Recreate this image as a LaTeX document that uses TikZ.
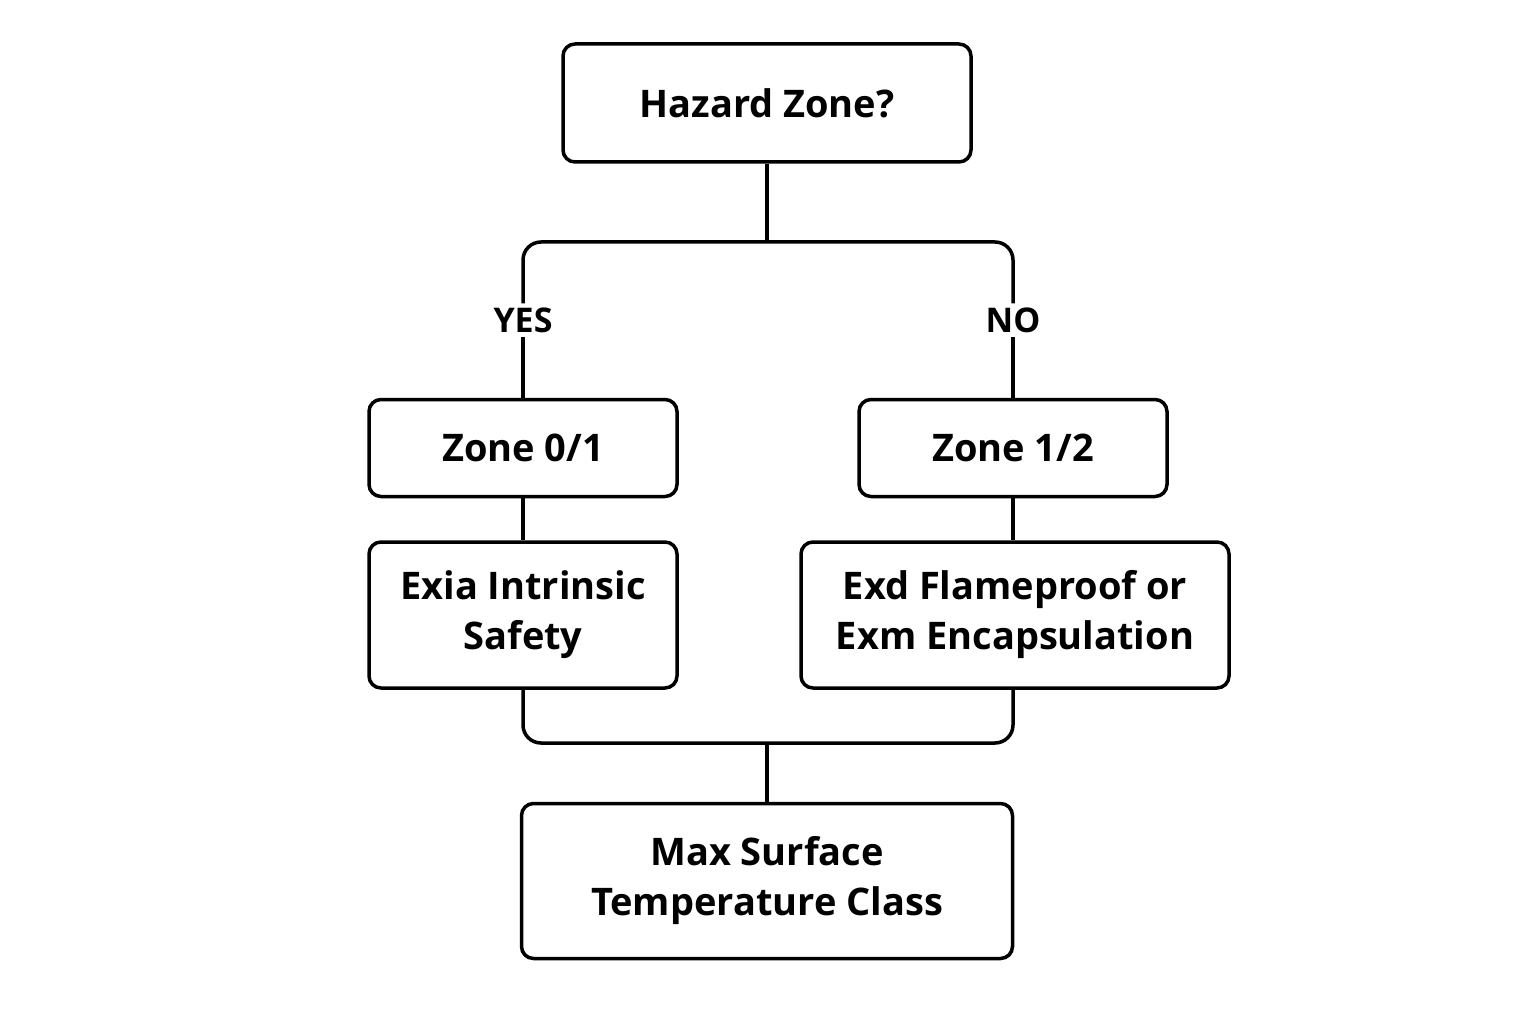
\documentclass[tikz,border=0pt]{standalone}
\usepackage{fontspec}
\setmainfont{Open Sans}
\begin{document}
\begin{tikzpicture}[x=1pt,y=-1pt,
  box/.style={draw,line width=3.5pt,rounded corners=12pt,align=center,font=\fontsize{38}{50}\selectfont\bfseries,inner sep=0pt},
  lab/.style={font=\fontsize{34}{40}\selectfont\bfseries,fill=white,inner sep=4pt},
  conn/.style={line width=3.5pt,rounded corners=18pt}]
\useasboundingbox (0,0) rectangle (1536,1024);
\node[box,minimum width=408pt,minimum height=118pt] (haz) at (767,103) {Hazard Zone?};
\node[box,minimum width=308pt,minimum height=97pt] (z01) at (523,448) {Zone 0/1};
\node[box,minimum width=308pt,minimum height=97pt] (z12) at (1013,448) {Zone 1/2};
\node[box,minimum width=308pt,minimum height=146pt] (exia) at (523,615) {Exia Intrinsic\\Safety};
\node[box,minimum width=428pt,minimum height=146pt] (exd) at (1015,615) {Exd Flameproof or\\Exm Encapsulation};
\node[box,minimum width=491pt,minimum height=155pt] (max) at (767,881) {Max Surface\\Temperature Class};
\node[lab] (yes) at (523,320) {YES};
\node[lab] (no) at (1013,320) {NO};
\coordinate (top) at (767,242);
\coordinate (bot) at (767,743);
\draw[conn] (haz.south) -- (top);
\draw[conn] (yes.north) |- (top) -| (no.north);
\draw[conn] (yes.south) -- (z01.north);
\draw[conn] (no.south) -- (z12.north);
\draw[conn] (z01.south) -- (exia.north);
\draw[conn] (z12.south) -- (z12.south|-exd.north);
\draw[conn] (exia.south) |- (bot) -| (z12.south|-exd.south);
\draw[conn] (bot) -- (max.north);
\end{tikzpicture}
\end{document}
